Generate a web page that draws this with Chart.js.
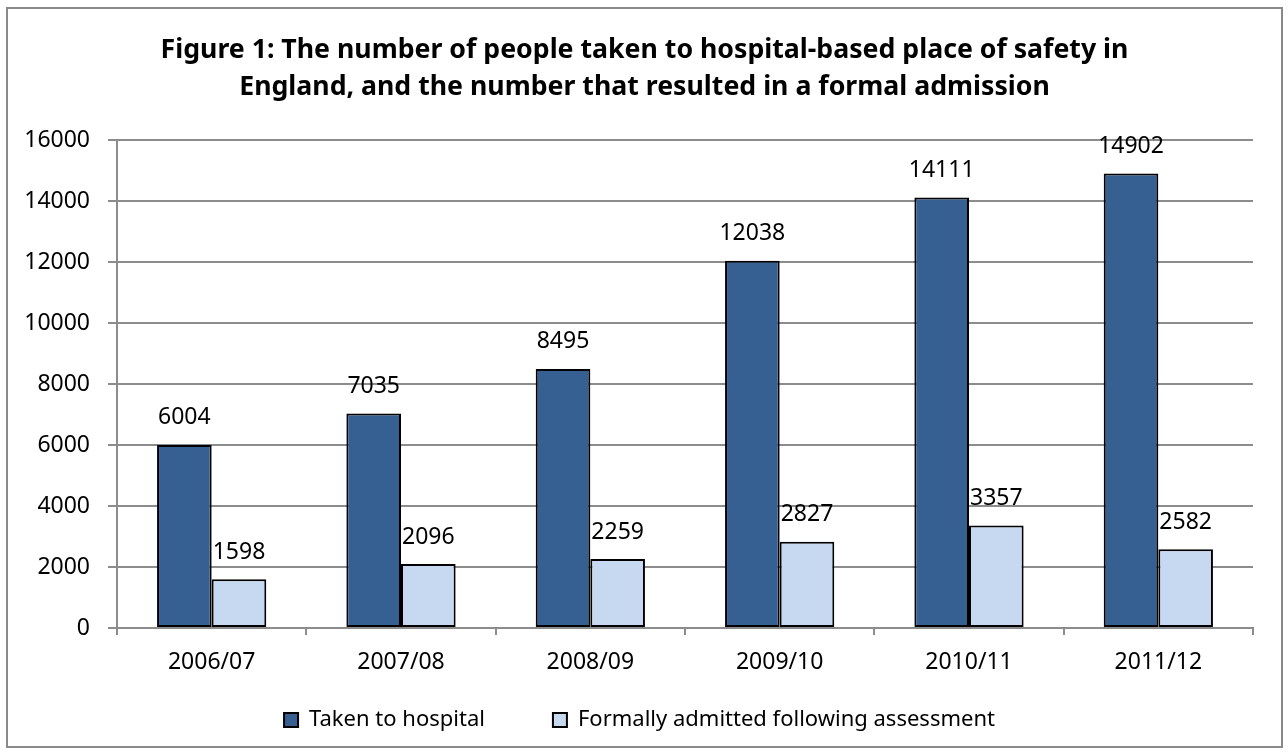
<!doctype html>
<html lang="en">
<head>
  <meta charset="utf-8">
  <title>Figure 1: place of safety admissions</title>
  <script src="https://cdn.jsdelivr.net/npm/chart.js"></script>
  <style>
    html, body {
      margin: 0;
      padding: 0;
      background: #ffffff;
    }
    /* outer chart frame, like the Excel chart border */
    #frame {
      position: absolute;
      left: 6px;
      top: 7px;
      width: 1277px;
      height: 741px;
      border: 2px solid #898989;
      box-sizing: border-box;
    }
    #wrap {
      position: absolute;
      left: 0;
      top: 0;
      width: 1288px;
      height: 753px;
    }
  </style>
</head>
<body>
  <div id="frame"></div>
  <div id="wrap"><canvas id="chart"></canvas></div>

  <script>
    // Data
    const categories = ["2006/07", "2007/08", "2008/09", "2009/10", "2010/11", "2011/12"];
    const takenToHospital = [6004, 7035, 8495, 12038, 14111, 14902];
    const formallyAdmitted = [1598, 2096, 2259, 2827, 3357, 2582];
    const seriesNames = ["Taken to hospital", "Formally admitted following assessment"];
    const titleLines = [
      "Figure 1: The number of people taken to hospital-based place of safety in",
      "England, and the number that resulted in a formal admission"
    ];
    const yMin = 0, yMax = 16000, yStep = 2000;

    const gridGrey = "#8c8c8c";
    Chart.defaults.font.family = "'Noto Sans', sans-serif";
    Chart.defaults.color = "#000000";

    // value labels above each bar
    const valueLabels = {
      id: "valueLabels",
      afterDatasetsDraw(chart) {
        const ctx = chart.ctx;
        ctx.save();
        ctx.font = "23px 'Noto Sans', sans-serif";
        ctx.fillStyle = "#000";
        ctx.textAlign = "center";
        ctx.textBaseline = "middle";
        chart.data.datasets.forEach((ds, i) => {
          chart.getDatasetMeta(i).data.forEach((bar, j) => {
            ctx.fillText(String(ds.data[j]), bar.x, bar.y - 27);
          });
        });
        ctx.restore();
      }
    };

    // the legend needs a wide gap between items but little room above them,
    // so move it up a bit after layout; title is centred on the whole frame
    const nudgeBoxes = {
      id: "nudgeBoxes",
      afterLayout(chart) {
        chart.legend.top -= 36;
        chart.legend.left += 8;
        chart.legend.right += 8;
        chart.titleBlock.left += 13;
        chart.titleBlock.right += 13;
      }
    };

    new Chart(document.getElementById("chart"), {
      type: "bar",
      data: {
        labels: categories,
        datasets: [
          {
            label: seriesNames[0],
            data: takenToHospital,
            backgroundColor: "#376092",
            borderColor: "#000000",
            borderWidth: 2,
            borderSkipped: false
          },
          {
            label: seriesNames[1],
            data: formallyAdmitted,
            backgroundColor: "#c6d9f1",
            borderColor: "#000000",
            borderWidth: 2,
            borderSkipped: false
          }
        ]
      },
      options: {
        responsive: true,
        maintainAspectRatio: false,
        animation: false,
        categoryPercentage: 0.577,
        barPercentage: 1,
        layout: {
          padding: { left: 10, right: 35, top: 0, bottom: 12 }
        },
        plugins: {
          title: {
            display: true,
            text: titleLines,
            font: { size: 26.7, weight: "bold", lineHeight: 37 / 26.7 },
            padding: { top: 31.5, bottom: 34.5 }
          },
          legend: {
            position: "bottom",
            maxHeight: 64,
            labels: {
              boxWidth: 14,
              boxHeight: 14,
              padding: 68,
              font: { size: 22 }
            }
          },
          tooltip: { enabled: false }
        },
        scales: {
          x: {
            afterFit(scale) { scale.height = 49; },
            grid: {
              offset: true,
              drawOnChartArea: false,
              drawTicks: true,
              tickLength: 7,
              color: gridGrey,
              lineWidth: 2
            },
            border: { color: gridGrey, width: 2 },
            ticks: { font: { size: 23 }, padding: 14, maxRotation: 0 }
          },
          y: {
            min: yMin,
            max: yMax,
            afterFit(scale) { scale.width = 107; },
            grid: {
              color: gridGrey,
              lineWidth: 2,
              tickLength: 9
            },
            border: { color: gridGrey, width: 2 },
            ticks: {
              stepSize: yStep,
              font: { size: 23 },
              padding: 18,
              callback: v => String(v)
            }
          }
        }
      },
      plugins: [valueLabels, nudgeBoxes]
    });
  </script>
</body>
</html>
